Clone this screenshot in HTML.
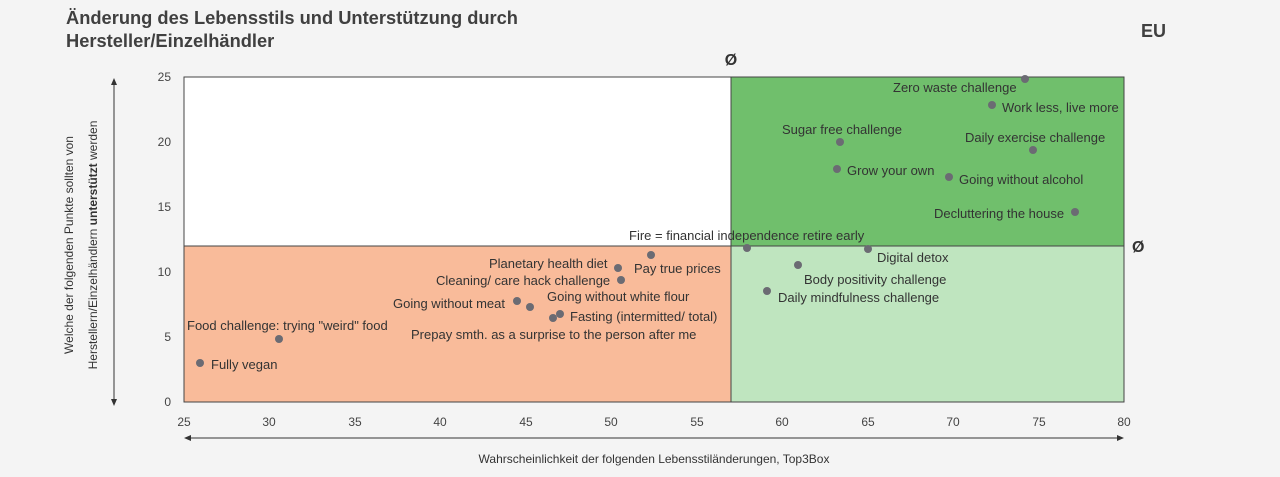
<!DOCTYPE html>
<html><head><meta charset="utf-8"><style>
body{margin:0;background:#f4f4f4;}
svg{display:block;font-family:"Liberation Sans",sans-serif;}
</style></head><body>
<svg width="1280" height="477" viewBox="0 0 1280 477">
<rect width="1280" height="477" fill="#f4f4f4"/>
<text x="66" y="24" font-size="18.3" font-weight="bold" fill="#404040">Änderung des Lebensstils und Unterstützung durch</text>
<text x="66" y="47" font-size="18.3" font-weight="bold" fill="#404040">Hersteller/Einzelhändler</text>
<text x="1141" y="37" font-size="18" font-weight="bold" fill="#404040">EU</text>
<rect x="184" y="77" width="940" height="325" fill="#ffffff"/>
<rect x="731" y="77" width="393" height="169" fill="#70bf6c"/>
<rect x="731" y="246" width="393" height="156" fill="#bfe5bf"/>
<rect x="184" y="246" width="547" height="156" fill="#f9bb9a"/>
<line x1="731" y1="77" x2="731" y2="402" stroke="#444" stroke-width="1"/>
<line x1="184" y1="246" x2="1124" y2="246" stroke="#444" stroke-width="1"/>
<rect x="184" y="77" width="940" height="325" fill="none" stroke="#444" stroke-width="1"/>
<text x="731" y="65" font-size="16" font-weight="bold" fill="#333" text-anchor="middle">Ø</text>
<text x="1132" y="252" font-size="16" font-weight="bold" fill="#333">Ø</text>
<g font-size="12" fill="#444" text-anchor="end">
<text x="171" y="81">25</text><text x="171" y="146">20</text><text x="171" y="211">15</text><text x="171" y="276">10</text><text x="171" y="341">5</text><text x="171" y="406">0</text>
</g>
<g font-size="12" fill="#444" text-anchor="middle">
<text x="184" y="426">25</text><text x="269" y="426">30</text><text x="355" y="426">35</text><text x="440" y="426">40</text><text x="526" y="426">45</text><text x="611" y="426">50</text><text x="697" y="426">55</text><text x="782" y="426">60</text><text x="868" y="426">65</text><text x="953" y="426">70</text><text x="1039" y="426">75</text><text x="1124" y="426">80</text>
</g>
<line x1="188" y1="438" x2="1120" y2="438" stroke="#333"/>
<path d="M184 438 l7 -3 v6z M1124 438 l-7 -3 v6z" fill="#333"/>
<text x="654" y="463" font-size="12" fill="#333" text-anchor="middle">Wahrscheinlichkeit  der folgenden Lebensstiländerungen,  Top3Box</text>
<line x1="114" y1="82" x2="114" y2="402" stroke="#333"/>
<path d="M114 78 l-3 7 h6z M114 406 l-3 -7 h6z" fill="#333"/>
<text transform="translate(73,245) rotate(-90)" font-size="12" fill="#333" text-anchor="middle">Welche  der folgenden Punkte  sollten von</text>
<text transform="translate(97,245) rotate(-90)" font-size="12" fill="#333" text-anchor="middle">Herstellern/Einzelhändlern  <tspan font-weight="bold">unterstützt</tspan>  werden</text>
<g fill="#6b6b73">
<circle cx="1025" cy="79" r="4"/><circle cx="992" cy="105" r="4"/><circle cx="840" cy="142" r="4"/><circle cx="1033" cy="150" r="4"/><circle cx="837" cy="169" r="4"/><circle cx="949" cy="177" r="4"/><circle cx="1075" cy="212" r="4"/><circle cx="747" cy="248" r="4"/><circle cx="868" cy="249" r="4"/><circle cx="798" cy="265" r="4"/><circle cx="767" cy="291" r="4"/><circle cx="618" cy="268" r="4"/><circle cx="651" cy="255" r="4"/><circle cx="621" cy="280" r="4"/><circle cx="517" cy="301" r="4"/><circle cx="530" cy="307" r="4"/><circle cx="560" cy="314" r="4"/><circle cx="553" cy="318" r="4"/><circle cx="279" cy="339" r="4"/><circle cx="200" cy="363" r="4"/>
</g>
<g font-size="13" fill="#333">
<text x="893" y="92">Zero waste challenge</text>
<text x="1002" y="112">Work less, live more</text>
<text x="782" y="134">Sugar free challenge</text>
<text x="965" y="142">Daily exercise challenge</text>
<text x="847" y="175">Grow your own</text>
<text x="959" y="184">Going without  alcohol</text>
<text x="934" y="218">Decluttering  the house</text>
<text x="629" y="240">Fire = financial independence retire early</text>
<text x="877" y="262">Digital detox</text>
<text x="804" y="284">Body positivity  challenge</text>
<text x="778" y="302">Daily mindfulness  challenge</text>
<text x="489" y="268">Planetary health diet</text>
<text x="634" y="273">Pay true prices</text>
<text x="436" y="285">Cleaning/  care hack challenge</text>
<text x="393" y="308">Going without  meat</text>
<text x="547" y="301">Going without  white flour</text>
<text x="570" y="321">Fasting  (intermitted/  total)</text>
<text x="411" y="339">Prepay smth.  as a surprise to the person after me</text>
<text x="187" y="330">Food challenge: trying "weird" food</text>
<text x="211" y="369">Fully vegan</text>
</g>
</svg>
</body></html>
